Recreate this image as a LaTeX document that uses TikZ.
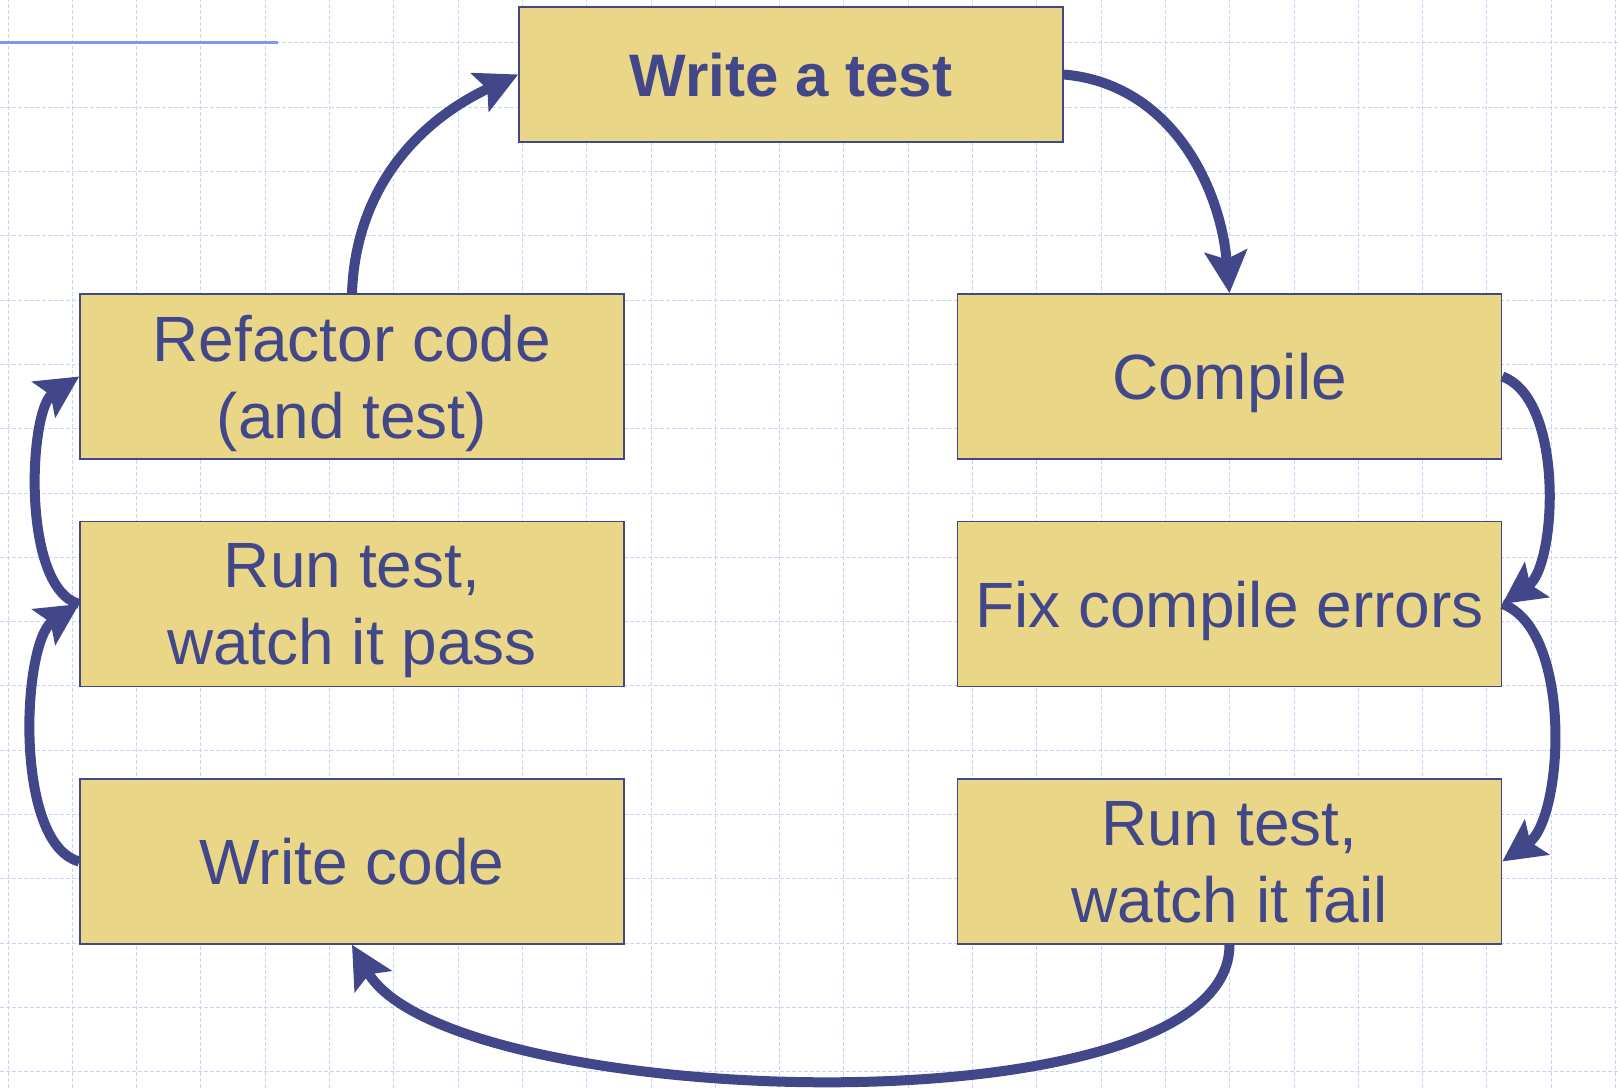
\documentclass[tikz,border=0pt]{standalone}
\usepackage{fontspec}
\setmainfont{Liberation Sans}
\usetikzlibrary{positioning, calc, shapes, arrows.meta}

\definecolor{boxfill}{HTML}{EAD687}
\definecolor{inkblue}{HTML}{414789}
\definecolor{gridblue}{HTML}{C9D5F7}
\definecolor{ruleblue}{HTML}{7B99EE}

\tikzset{
    stagebox/.style={draw=inkblue, line width=0.8pt, fill=boxfill, text=inkblue,
        minimum width=272pt, minimum height=82.5pt, inner sep=0pt, align=center,
        text depth=0pt, font=\fontsize{32}{38.5}\selectfont},
    cyclearrow/.style={draw=inkblue, line width=5pt,
        -{Stealth[length=21pt, width=21pt, inset=4pt]}},
    gridline/.style={draw=gridblue, line width=0.5pt, dash pattern=on 2pt off 1pt}
}

\begin{document}
\begin{tikzpicture}[x=0.5pt, y=0.5pt]

    \useasboundingbox (0,0) rectangle (1618,1088);

    % background grid
    \foreach \gx in {0,...,25} {
        \draw[gridline] ({8+64.3*\gx},0) -- ({8+64.3*\gx},1088);
    }
    \foreach \gy in {0,...,16} {
        \draw[gridline] (0,{1045-64.3*\gy}) -- (1618,{1045-64.3*\gy});
    }
    \draw[ruleblue, line width=1.5pt] (0,1045) -- (278,1045);

    \node[stagebox, minimum height=67.5pt, font=\fontsize{30}{36}\selectfont\bfseries] (writetest) at (791, 1013.5) {Write a test};
    \node[stagebox] (refactor) at (352, 711.5) {Refactor code\\(and test)};
    \node[stagebox] (runpass) at (352, 484) {Run test,\\watch it pass};
    \node[stagebox] (writecode) at (352, 226.5) {Write code};
    \node[stagebox] (compile) at (1229.5, 711.5) {Compile};
    \node[stagebox] (fixerrors) at (1229.5, 484) {Fix compile errors};
    \node[stagebox] (runfail) at (1229.5, 226.5) {Run test,\\watch it fail};

    \draw[cyclearrow] (writetest.east) to[out=-5, in=95] (compile.north);
    \draw[cyclearrow] (compile.east) to[out=-20, in=35, looseness=0.75] (fixerrors.east);
    \draw[cyclearrow] (fixerrors.east) to[out=-20, in=35, looseness=0.75] (runfail.east);
    \draw[cyclearrow] (runfail.south) to[out=-90, in=-60, looseness=0.56] (writecode.south);
    \draw[cyclearrow] (writecode.west) to[out=165, in=213, looseness=0.68] (runpass.west);
    \draw[cyclearrow] (runpass.west) to[out=165, in=213, looseness=0.68] (refactor.west);
    \draw[cyclearrow] (refactor.north) to[out=88, in=205] (writetest.west);

\end{tikzpicture}
\end{document}
